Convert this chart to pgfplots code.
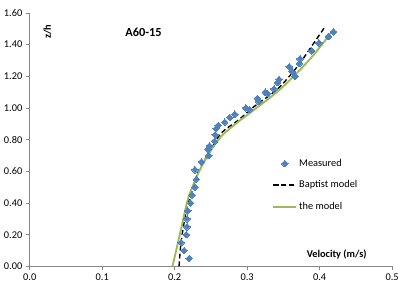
\documentclass[border=0pt]{standalone}
\usepackage{pgfplots}
\pgfplotsset{compat=1.18}
\usepackage{fontspec}
\setmainfont{Carlito}
\definecolor{mblue}{HTML}{4F81BD}
\definecolor{mgreen}{HTML}{9BBB59}
\definecolor{axgrey}{HTML}{868686}
\begin{document}
\begin{tikzpicture}
\begin{axis}[name=ax,
  scale only axis, width=366bp, height=256bp,
  xmin=0, xmax=0.5, ymin=0, ymax=1.6,
  axis lines=left, axis line style={axgrey, line width=0.75pt, -},
  xtick={0,0.1,...,0.5}, ytick={0,0.2,...,1.6},
  tick style={axgrey, line width=0.75pt},
  tick align=outside, major tick length=4bp,
  xticklabel style={/pgf/number format/.cd, fixed, fixed zerofill, precision=1},
  yticklabel style={/pgf/number format/.cd, fixed, fixed zerofill, precision=2},
  /pgf/number format/assume math mode=true,
  tick label style={font=\fontsize{10.5}{12}\selectfont, black},
  legend image code/.code={\draw[mark repeat=2,mark phase=2,#1] plot coordinates {(0bp,0bp) (11.5bp,0bp) (23bp,0bp)};},
  legend style={draw=none, fill=none, at={(axis cs:0.3347,0.69)}, anchor=north west,
    font=\fontsize{10.5}{12}\selectfont, row sep=9bp, inner sep=0pt,
    /tikz/every even column/.append style={column sep=2bp}},
  legend cell align=left,
  clip=false,
]
\addplot[only marks, mark=square*, mark size=2.35bp, mark options={fill=mblue, draw=mblue, rotate=45, line width=0pt}] coordinates {
(0.220,0.05)(0.213,0.10)(0.209,0.15)(0.216,0.20)(0.217,0.25)(0.217,0.30)(0.218,0.35)(0.222,0.40)
(0.224,0.45)(0.228,0.50)(0.230,0.55)(0.228,0.61)(0.237,0.66)(0.247,0.70)(0.246,0.74)(0.248,0.76)
(0.255,0.79)(0.256,0.83)(0.257,0.87)(0.260,0.89)(0.269,0.91)(0.276,0.94)(0.283,0.96)(0.298,1.00)
(0.303,0.99)(0.314,1.06)(0.316,1.04)(0.325,1.10)(0.328,1.09)(0.337,1.12)(0.342,1.16)(0.344,1.18)
(0.358,1.26)(0.362,1.23)(0.366,1.20)(0.372,1.28)(0.373,1.31)(0.389,1.36)(0.399,1.41)(0.412,1.45)
(0.419,1.48)
};
\addlegendentry{Measured}
\addplot[black, line width=1.4pt, dash pattern=on 5bp off 3bp, smooth] coordinates {
(0.206,0)(0.209,0.16)(0.216,0.35)(0.223,0.47)(0.232,0.59)(0.245,0.70)(0.264,0.84)(0.287,0.92)
(0.310,1.01)(0.342,1.12)(0.369,1.26)(0.392,1.41)(0.407,1.51)
};
\addlegendentry{Baptist model}
\addplot[mgreen, line width=1.9pt, smooth] coordinates {
(0.197,0)(0.203,0.12)(0.209,0.24)(0.218,0.42)(0.227,0.53)(0.236,0.62)(0.247,0.71)(0.264,0.82)
(0.287,0.91)(0.310,0.99)(0.346,1.12)(0.387,1.31)(0.420,1.50)
};
\addlegendentry{the model}
\node[font=\fontsize{12.5}{14}\selectfont\bfseries] at (axis cs:0.157,1.48) {A60-15};
\node[font=\fontsize{10.5}{12}\selectfont\bfseries, rotate=90] at (axis cs:0.0246,1.48) {z/h};
\node[font=\fontsize{10.5}{12}\selectfont\bfseries] at (axis cs:0.4235,0.075) {Velocity (m/s)};
\end{axis}
\path ([xshift=-30bp,yshift=-28bp]ax.south west) rectangle ([xshift=6bp,yshift=13bp]ax.north east);
\end{tikzpicture}
\end{document}
